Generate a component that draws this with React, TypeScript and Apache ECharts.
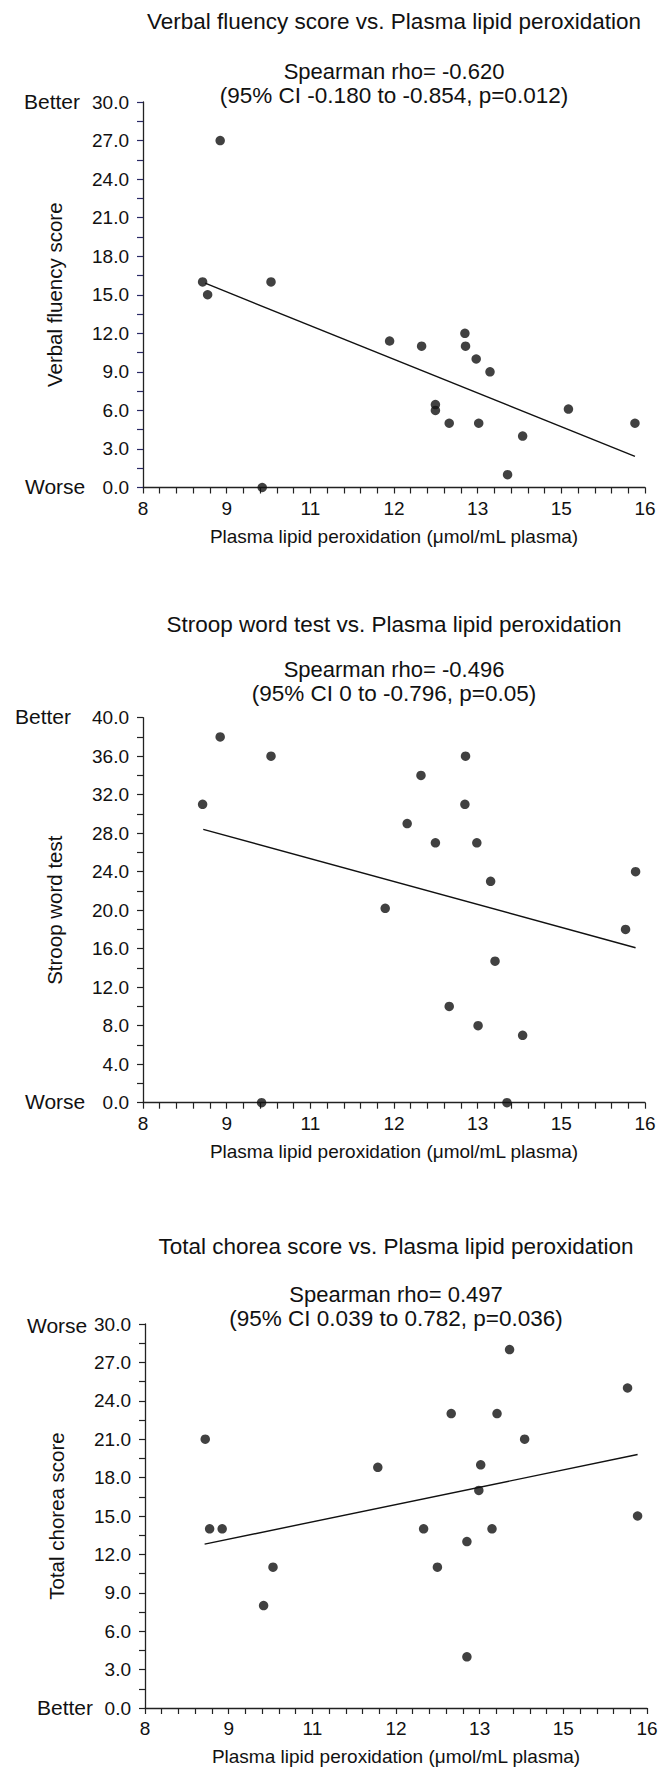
import React, { useEffect, useRef } from "react";
import * as echarts from "echarts";

// ---------- data ----------
const xAxisTitle = "Plasma lipid peroxidation (\u03bcmol/mL plasma)";

const verbalTitle = "Verbal fluency score vs. Plasma lipid peroxidation";
const verbalStat1 = "Spearman rho= -0.620";
const verbalStat2 = "(95% CI -0.180 to -0.854, p=0.012)";
const verbalYName = "Verbal fluency score";
const verbalX = [8.95, 9.03, 9.23, 9.9, 10.04, 11.93, 12.44, 12.66, 12.66, 12.88, 13.13, 13.14, 13.31, 13.35, 13.53, 13.81, 14.05, 14.78, 15.84];
const verbalY = [16, 15, 27, 0, 16, 11.4, 11, 6.45, 6, 5, 12, 11, 10, 5, 9, 1, 4, 6.1, 5];
const verbalFitX = [8.99, 15.84];
const verbalFitY = [15.9, 2.42];

const stroopTitle = "Stroop word test vs. Plasma lipid peroxidation";
const stroopStat1 = "Spearman rho= -0.496";
const stroopStat2 = "(95% CI 0 to -0.796, p=0.05)";
const stroopYName = "Stroop word test";
const stroopX = [8.95, 9.23, 9.89, 10.04, 11.86, 12.21, 12.43, 12.66, 12.88, 13.13, 13.14, 13.32, 13.34, 13.54, 13.61, 13.8, 14.05, 15.69, 15.85];
const stroopY = [31, 38, 0, 36, 20.2, 29, 34, 27, 10, 31, 36, 27, 8, 23, 14.7, 0, 7, 18, 24];
const stroopFitX = [8.96, 15.85];
const stroopFitY = [28.4, 16.1];

const choreaTitle = "Total chorea score vs. Plasma lipid peroxidation";
const choreaStat1 = "Spearman rho= 0.497";
const choreaStat2 = "(95% CI 0.039 to 0.782, p=0.036)";
const choreaYName = "Total chorea score";
const choreaX = [8.96, 9.03, 9.23, 9.89, 10.04, 11.71, 12.44, 12.66, 12.88, 13.13, 13.13, 13.32, 13.35, 13.53, 13.61, 13.81, 14.05, 15.69, 15.85];
const choreaY = [21, 14, 14, 8, 11, 18.8, 14, 11, 23, 4, 13, 17, 19, 14, 23, 28, 21, 25, 15];
const choreaFitX = [8.95, 15.85];
const choreaFitY = [12.8, 19.8];

const xMin = 8;
const xMax = 16;
const xInterval = 4 / 3;

const FONT = "'Liberation Sans', Arial, Helvetica, sans-serif";
const INK = "#111";

const zip = (xs: number[], ys: number[]) => xs.map((x, i) => [x, ys[i]]);

export default function App() {
  const ref = useRef<HTMLDivElement>(null);

  useEffect(() => {
    if (!ref.current) return;
    const chart = echarts.init(ref.current, undefined, { renderer: "svg" });

    const grids = [
      { left: 143, top: 102, width: 502, height: 385.5 },
      { left: 143, top: 717.7, width: 502, height: 385 },
      { left: 145, top: 1324, width: 502, height: 384 },
    ];
    const yDefs = [
      { max: 30, interval: 3, name: verbalYName, tickColor: "#2a2a66" },
      { max: 40, interval: 4, name: stroopYName, tickColor: "#222" },
      { max: 30, interval: 3, name: choreaYName, tickColor: "#222" },
    ];

    const xAxes = grids.map((_, i) => ({
      type: "value",
      gridIndex: i,
      min: xMin,
      max: xMax,
      interval: xInterval,
      name: xAxisTitle,
      nameLocation: "middle",
      nameGap: 39,
      nameTextStyle: { fontFamily: FONT, fontSize: 19, color: INK },
      axisLine: { show: true, onZero: false, lineStyle: { color: "#222", width: 1.3 } },
      axisTick: { show: true, inside: false, length: 6, lineStyle: { color: "#222", width: 1.2 } },
      minorTick: { show: true, splitNumber: 5, length: 6, lineStyle: { color: "#222", width: 1.2 } },
      splitLine: { show: false },
      axisLabel: {
        margin: 11,
        fontFamily: FONT,
        fontSize: 19,
        color: INK,
        showMinLabel: true,
        showMaxLabel: true,
        formatter: (v: number) => String(Math.round(v)),
      },
    }));

    const yAxes = yDefs.map((d, i) => ({
      type: "value",
      gridIndex: i,
      min: 0,
      max: d.max,
      interval: d.interval,
      name: d.name,
      nameLocation: "middle",
      nameRotate: 90,
      nameGap: 78,
      nameTextStyle: { fontFamily: FONT, fontSize: 20.5, color: INK },
      axisLine: { show: true, onZero: false, lineStyle: { color: "#222", width: 1.3 } },
      axisTick: { show: true, inside: false, length: 6, lineStyle: { color: d.tickColor, width: 1.2 } },
      minorTick: { show: true, splitNumber: 2, length: 6, lineStyle: { color: d.tickColor, width: 1.2 } },
      splitLine: { show: false },
      axisLabel: {
        margin: 14,
        fontFamily: FONT,
        fontSize: 19,
        color: INK,
        formatter: (v: number) => v.toFixed(1),
      },
    }));

    const scatterSets = [
      zip(verbalX, verbalY),
      zip(stroopX, stroopY),
      zip(choreaX, choreaY),
    ];
    const fitSets = [
      zip(verbalFitX, verbalFitY),
      zip(stroopFitX, stroopFitY),
      zip(choreaFitX, choreaFitY),
    ];

    const series: any[] = [];
    scatterSets.forEach((data, i) => {
      series.push({
        type: "line",
        xAxisIndex: i,
        yAxisIndex: i,
        data: fitSets[i],
        symbol: "none",
        lineStyle: { color: INK, width: 1.4 },
        silent: true,
        z: 2,
      });
      series.push({
        type: "scatter",
        xAxisIndex: i,
        yAxisIndex: i,
        data,
        symbol: "circle",
        symbolSize: 9.5,
        itemStyle: { color: INK },
        z: 3,
      });
    });

    const centerX = (g: any) => g.left + g.width / 2;
    const txt = (text: string, x: number, y: number, size: number, align = "center") => ({
      type: "text",
      x,
      y,
      style: {
        text,
        fill: INK,
        font: `${size}px ${FONT}`,
        fontSize: size,
        fontFamily: FONT,
        align,
        textAlign: align,
        verticalAlign: "middle",
        textVerticalAlign: "middle",
      },
    });

    const headers = [
      { t: verbalTitle, s1: verbalStat1, s2: verbalStat2, ty: 21, s1y: 71, s2y: 95 },
      { t: stroopTitle, s1: stroopStat1, s2: stroopStat2, ty: 624, s1y: 669, s2y: 693 },
      { t: choreaTitle, s1: choreaStat1, s2: choreaStat2, ty: 1246, s1y: 1294, s2y: 1318 },
    ];
    const graphics: any[] = [];
    headers.forEach((h, i) => {
      const cx = centerX(grids[i]);
      graphics.push(txt(h.t, cx, h.ty, 22.5));
      graphics.push(txt(h.s1, cx, h.s1y, 22));
      graphics.push(txt(h.s2, cx, h.s2y, 22.5));
    });
    // end labels
    graphics.push(txt("Better", 24, 101, 21, "left"));
    graphics.push(txt("Worse", 25, 486, 21, "left"));
    graphics.push(txt("Better", 15, 716, 21, "left"));
    graphics.push(txt("Worse", 25, 1101, 21, "left"));
    graphics.push(txt("Worse", 27, 1325, 21, "left"));
    graphics.push(txt("Better", 37, 1707, 21, "left"));

    chart.setOption({
      animation: false,
      backgroundColor: "#fff",
      grid: grids.map((g) => ({ ...g, containLabel: false })),
      xAxis: xAxes,
      yAxis: yAxes,
      series,
      graphic: graphics,
    });

    return () => chart.dispose();
  }, []);

  return (
    <div
      ref={ref}
      style={{ position: "absolute", left: 0, top: 0, width: 661, height: 1780, background: "#fff" }}
    />
  );
}
